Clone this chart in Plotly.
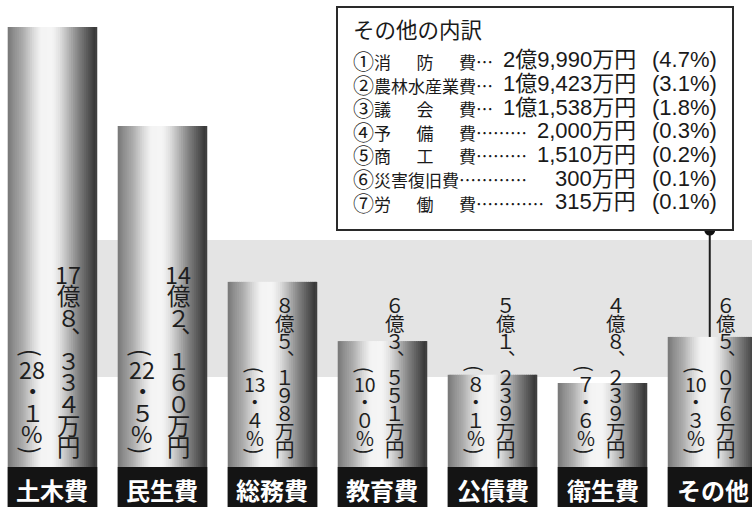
import plotly.graph_objects as go

# ---------------- data ----------------
categories = ["土木費", "民生費", "総務費", "教育費", "公債費", "衛生費", "その他"]
amounts_man = [178334, 142160, 85198, 63551, 51239, 48239, 65076]   # 万円
shares_pct = [28.1, 22.5, 13.4, 10.0, 8.1, 7.6, 10.3]

other_title = "その他の内訳"
other_items = ["消防費", "農林水産業費", "議会費", "予備費", "商工費", "災害復旧費", "労働費"]
other_amounts_man = [29990, 19423, 11538, 2000, 1510, 300, 315]
other_shares_pct = [4.7, 3.1, 1.8, 0.3, 0.2, 0.1, 0.1]
circled = ["①", "②", "③", "④", "⑤", "⑥", "⑦"]

# ---------------- layout constants ----------------
W, H = 752, 507
X_RANGE = [-0.477, 6.359]
Y_RANGE = [0.292, 18.823]
BAR_W = 0.814
CJK = "Noto Sans CJK JP"
NUMF = "Liberation Sans, Noto Sans CJK JP"

values_oku = [a / 10000 for a in amounts_man]
xs = list(range(len(categories)))


def px_x(p):
    return p / W


def px_y(p):  # pixel from top -> paper
    return 1 - p / H


def paper_to_data_y(f):
    return Y_RANGE[0] + f * (Y_RANGE[1] - Y_RANGE[0])


FW = str.maketrans("0123456789", "０１２３４５６７８９")


def num_tokens(n):
    s = str(n)
    if len(s) == 2:
        return [s]
    return [c.translate(FW) for c in s]


def amount_tokens(man):
    oku, rest = divmod(man, 10000)
    toks = num_tokens(oku) + ["億"]
    toks += [str(rest // 1000).translate(FW), "︑"]
    toks += [c.translate(FW) for c in f"{rest % 1000:03d}"]
    toks += ["万", "円"]
    return toks


def pct_tokens(p):
    ip, dp = f"{p:.1f}".split(".")
    return ["("] + num_tokens(int(ip)) + ["・"] + [dp.translate(FW)] + ["%", ")"]


def interp(stops, f):
    for (f0, g0), (f1, g1) in zip(stops, stops[1:]):
        if f0 <= f <= f1:
            t = (f - f0) / (f1 - f0) if f1 > f0 else 0
            return g0 + t * (g1 - g0)
    return stops[-1][1]


GRAD = [(0, 118), (0.06, 140), (0.17, 172), (0.28, 216), (0.37, 244), (0.5, 245),
        (0.58, 224), (0.69, 176), (0.8, 126), (0.92, 78), (0.97, 56), (1.0, 66)]

fig = go.Figure()

# cylinder-like bars made of vertical shading stripes
N = 48
for k in range(N):
    f0 = k / N
    g = int(round(interp(GRAD, (k + 0.5) / N)))
    off = -BAR_W / 2 + f0 * BAR_W
    wid = min(BAR_W / N * 1.6, BAR_W / 2 - off)
    fig.add_bar(x=xs, y=values_oku, width=wid, offset=off,
                marker=dict(color=f"rgb({g},{g},{g})", line=dict(width=0)),
                hoverinfo="skip", showlegend=False)

shapes = []
annotations = []

# light gray band in the background
shapes.append(dict(type="rect", xref="x", yref="paper", x0=BAR_W / 2, x1=X_RANGE[1],
                   y0=px_y(377), y1=px_y(240), fillcolor="#e4e4e4",
                   line=dict(width=0), layer="below"))

# black category label boxes
for i, c in enumerate(categories):
    shapes.append(dict(type="rect", xref="x", yref="paper", x0=i - BAR_W / 2, x1=i + BAR_W / 2,
                       y0=0, y1=40 / H, fillcolor="#141414", line=dict(width=0), layer="above"))
    annotations.append(dict(x=i, xref="x", y=18 / H, yref="paper", text=f"<b>{c}</b>",
                            showarrow=False, xanchor="center", yanchor="middle",
                            font=dict(family=CJK, size=24, color="white")))


def tok_factor(t):
    if t in ("(", ")"):
        return 0.6
    if len(t) == 2:
        return 0.92
    return 1.0


# vertical value texts
for i in xs:
    s = 1.2 if values_oku[i] > 10 else 1.0
    p = 18 * s
    fs = 19.5 * s
    cols = [(amount_tokens(amounts_man[i]), 13 * s), (pct_tokens(shares_pct[i]), -17 * s)]
    for toks, xoff in cols:
        y = 50
        for t in reversed(toks):
            h = p * tok_factor(t)
            ang = 90 if t in ("(", ")") else 0
            annotations.append(dict(x=i, xref="x", xshift=xoff, y=0, yref="paper",
                                    yshift=y + h / 2, text=t, showarrow=False,
                                    xanchor="center", yanchor="middle", textangle=ang,
                                    font=dict(family=CJK, size=fs, color="#1e1e1e")))
            y += h

# callout box
shapes.append(dict(type="rect", xref="paper", yref="paper", x0=px_x(337), x1=px_x(733),
                   y0=px_y(230), y1=px_y(7), fillcolor="white",
                   line=dict(color="#2a2a2a", width=2), layer="above"))

annotations.append(dict(x=px_x(351), xref="paper", y=px_y(29), yref="paper", text=other_title,
                        showarrow=False, xanchor="left", yanchor="middle",
                        font=dict(family=CJK, size=21.5, color="#1a1a1a")))

SP = "\u2003\u2002"
for j, (nm, am, pc) in enumerate(zip(other_items, other_amounts_man, other_shares_pct)):
    yc = px_y(60 + 23.6 * j)
    name = SP.join(nm) if len(nm) == 3 else nm
    dots = "…" if am >= 10000 else ("………" if am >= 1000 else "…………")
    oku, rest = divmod(am, 10000)
    amt = (f"{oku}億{rest:,}万円" if oku else f"{rest:,}万円")
    annotations.append(dict(x=px_x(351), xref="paper", y=yc, yref="paper",
                            text=f'<span style="font-size:21px">{circled[j]}</span>' + name + dots,
                            showarrow=False, xanchor="left", yanchor="middle",
                            font=dict(family=CJK, size=17, color="#1a1a1a")))
    annotations.append(dict(x=px_x(638), xref="paper", y=yc, yref="paper", text=amt,
                            showarrow=False, xanchor="right", yanchor="middle",
                            font=dict(family=NUMF, size=22, color="#1a1a1a")))
    annotations.append(dict(x=px_x(719), xref="paper", y=yc, yref="paper", text=f"({pc:.1f}%)",
                            showarrow=False, xanchor="right", yanchor="middle",
                            font=dict(family=NUMF, size=22, color="#1a1a1a")))

# connector from the callout box to the その他 bar
box_bottom = paper_to_data_y(px_y(230))
cx = 6 - 0.025
fig.add_scatter(x=[cx, cx], y=[values_oku[6], box_bottom], mode="lines",
                line=dict(color="#1e1e1e", width=2), hoverinfo="skip", showlegend=False)
fig.add_scatter(x=[cx], y=[box_bottom], mode="markers",
                marker=dict(color="#111111", size=11), hoverinfo="skip", showlegend=False,
                cliponaxis=False)

fig.update_layout(
    width=W, height=H, margin=dict(l=0, r=0, t=0, b=0),
    paper_bgcolor="white", plot_bgcolor="white",
    barmode="overlay", showlegend=False,
    xaxis=dict(visible=False, range=X_RANGE, fixedrange=True),
    yaxis=dict(visible=False, range=Y_RANGE, fixedrange=True),
    shapes=shapes, annotations=annotations,
)

fig.write_html("out.html", config={"displayModeBar": False},
               post_script="document.body.style.margin='0';document.body.style.overflow='hidden';")
